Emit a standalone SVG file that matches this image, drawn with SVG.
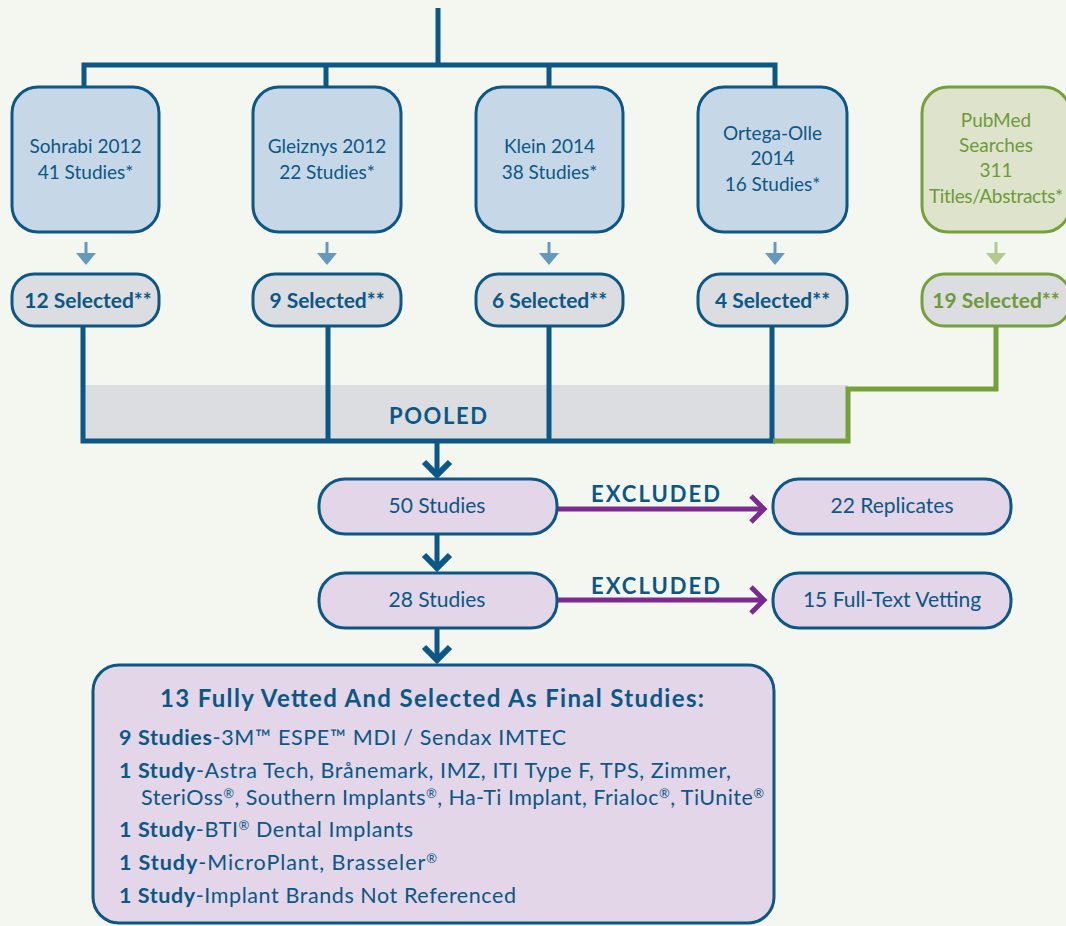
<svg xmlns="http://www.w3.org/2000/svg" width="1066" height="926" viewBox="0 0 1066 926">
<style>
text{font-family:"Lato","Open Sans",sans-serif;fill:#0b5785;}
.src{fill:#c6d8e7;stroke:#0b5785;stroke-width:3;}
.sel{fill:#dcdde0;stroke:#0b5785;stroke-width:3;}
.pur{fill:#e2d6e8;stroke:#0b5785;stroke-width:3;}
.gsrc{fill:#dde4cb;stroke:#76a03a;stroke-width:3;}
.gsel{fill:#dcdde0;stroke:#76a03a;stroke-width:3;}
.t18{font-size:19px;text-anchor:middle;}
.b20{font-size:21px;font-weight:bold;text-anchor:middle;}
.t20{font-size:21px;text-anchor:middle;}
.lbl{font-size:22px;font-weight:bold;text-anchor:middle;}
.g{fill:#6f9a3a;}
.line{fill:none;stroke:#0b5785;stroke-width:5;}
.gline{fill:none;stroke:#76a03a;stroke-width:5;}
.chev{fill:none;stroke:#0b5785;stroke-width:6;}
.parr{fill:none;stroke:#7b2a8f;stroke-width:5;}
.body{font-size:21.5px;}
.sup{font-size:13px;}
</style>
<rect width="1066" height="926" fill="#f4f7f0"/>
<rect x="83" y="385" width="765" height="56" fill="#dcdde0"/>
<g id="connectors">
<path class="line" d="M438 8V65M84 87V65H775V87M326 65V87M549 65V87"/>
<path class="line" d="M83 326V441H775M328 326V441M549 326V441M772 326V441"/>
<path class="gline" d="M996 327V389H848V441H773"/>
<g fill="#6699c0" stroke="#6699c0">
<path d="M86 242V255M327 242V255M549 242V255M775 242V255" stroke-width="3"/>
<path d="M76 253H96L86 265ZM317 253H337L327 265ZM539 253H559L549 265ZM765 253H785L775 265Z" stroke="none"/>
</g>
<path d="M996 242V255" stroke="#b2c98f" stroke-width="3"/>
<path d="M986 253H1006L996 265Z" fill="#b2c98f"/>
<path class="line" d="M437 441V475M437 534V568M437 628V660"/>
<path class="chev" d="M424 462L437 475L450 462M424 555L437 568L450 555M424 647L437 660L450 647"/>
<path class="parr" d="M557 509H764M557 600H764"/>
<path class="parr" d="M751 496L764 509L751 522M751 587L764 600L751 613"/>
<text class="lbl" x="655.5" y="502" textLength="129">EXCLUDED</text>
<text class="lbl" x="655.5" y="594" textLength="129">EXCLUDED</text>
<text class="lbl" x="438" y="424" textLength="98">POOLED</text>
</g>
<g id="sohrabi"><rect class="src" x="12" y="87" width="147" height="145" rx="26"/>
<text class="t18" x="85.5" y="153">Sohrabi 2012</text><text class="t18" x="85.5" y="179">41 Studies*</text></g>
<g id="gleiznys"><rect class="src" x="253" y="87" width="148" height="145" rx="26"/>
<text class="t18" x="327" y="153">Gleiznys 2012</text><text class="t18" x="327" y="179">22 Studies*</text></g>
<g id="klein"><rect class="src" x="476" y="87" width="147" height="145" rx="26"/>
<text class="t18" x="549.5" y="153">Klein 2014</text><text class="t18" x="549.5" y="179">38 Studies*</text></g>
<g id="ortega"><rect class="src" x="698" y="87" width="149" height="145" rx="26"/>
<text class="t18" x="772.5" y="140">Ortega-Olle</text><text class="t18" x="772.5" y="165">2014</text><text class="t18" x="772.5" y="191">16 Studies*</text></g>
<g id="pubmed"><rect class="gsrc" x="922" y="87" width="148" height="145" rx="26"/>
<text class="t18 g" x="996" y="127">PubMed</text><text class="t18 g" x="996" y="152">Searches</text><text class="t18 g" x="996" y="177">311</text><text class="t18 g" x="996" y="203" textLength="134">Titles/Abstracts*</text></g>
<g id="sel12"><rect class="sel" x="12" y="274" width="147" height="52" rx="22"/><text class="b20" x="88" y="308">12 Selected**</text></g>
<g id="sel9"><rect class="sel" x="253" y="274" width="148" height="52" rx="22"/><text class="b20" x="327" y="308">9 Selected**</text></g>
<g id="sel6"><rect class="sel" x="476" y="274" width="147" height="52" rx="22"/><text class="b20" x="549.5" y="308">6 Selected**</text></g>
<g id="sel4"><rect class="sel" x="698" y="274" width="149" height="52" rx="22"/><text class="b20" x="772.5" y="308">4 Selected**</text></g>
<g id="sel19"><rect class="gsel" x="922" y="274" width="148" height="52" rx="22"/><text class="b20 g" x="996" y="308">19 Selected**</text></g>
<g id="s50"><rect class="pur" x="319" y="479" width="238" height="55" rx="26"/><text class="t20" x="437" y="513">50 Studies</text></g>
<g id="s28"><rect class="pur" x="319" y="573" width="238" height="55" rx="26"/><text class="t20" x="437" y="607">28 Studies</text></g>
<g id="rep"><rect class="pur" x="773" y="479" width="238" height="55" rx="26"/><text class="t20" x="892" y="513">22 Replicates</text></g>
<g id="ftv"><rect class="pur" x="773" y="573" width="238" height="55" rx="26"/><text class="t20" x="892" y="607">15 Full-Text Vetting</text></g>
<g id="final"><rect class="pur" x="93" y="665" width="681" height="258" rx="26"/>
<text x="432" y="707" font-size="24" font-weight="bold" text-anchor="middle" textLength="544">13 Fully Vetted And Selected As Final Studies:</text>
<text class="body" x="119" y="745" textLength="447"><tspan font-weight="bold">9 Studies</tspan>-3M™ ESPE™ MDI / Sendax IMTEC</text>
<text class="body" x="119" y="778" textLength="612"><tspan font-weight="bold">1 Study</tspan>-Astra Tech, Brånemark, IMZ, ITI Type F, TPS, Zimmer,</text>
<text class="body" x="141" y="805" textLength="623">SteriOss<tspan class="sup" dy="-7">®</tspan><tspan dy="7">, Southern Implants</tspan><tspan class="sup" dy="-7">®</tspan><tspan dy="7">, Ha-Ti Implant, Frialoc</tspan><tspan class="sup" dy="-7">®</tspan><tspan dy="7">, TiUnite</tspan><tspan class="sup" dy="-7">®</tspan></text>
<text class="body" x="119" y="837" textLength="294"><tspan font-weight="bold">1 Study</tspan>-BTI<tspan class="sup" dy="-7">®</tspan><tspan dy="7"> Dental Implants</tspan></text>
<text class="body" x="119" y="870" textLength="318"><tspan font-weight="bold">1 Study</tspan>-MicroPlant, Brasseler<tspan class="sup" dy="-7">®</tspan></text>
<text class="body" x="119" y="903" textLength="397"><tspan font-weight="bold">1 Study</tspan>-Implant Brands Not Referenced</text>
</g>
</svg>
